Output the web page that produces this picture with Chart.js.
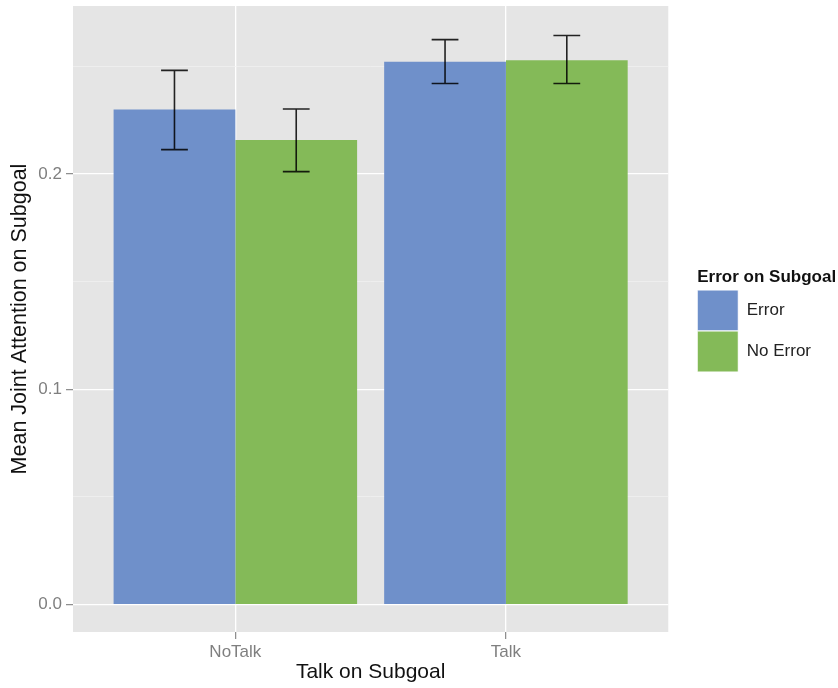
<!DOCTYPE html>
<html>
<head>
<meta charset="utf-8">
<script src="https://cdn.jsdelivr.net/npm/chart.js@4/dist/chart.umd.min.js"></script>
<style>
  html, body { margin: 0; padding: 0; background: #ffffff; }
  #wrap { width: 838px; height: 688px; }
</style>
</head>
<body>
<div id="wrap"><canvas id="chart" width="838" height="688"></canvas></div>
<script>
// Mean joint attention on subgoal, grouped by talk / error

var talkCategories = ['NoTalk', 'Talk'];
var errorMeans = [0.2299, 0.2521];
var noErrorMeans = [0.2158, 0.2528];
var errorLow = [0.2113, 0.2420];
var errorHigh = [0.2481, 0.2624];
var noErrorLow = [0.2011, 0.2420];
var noErrorHigh = [0.2302, 0.2643];
var yTickValues = [0, 0.05, 0.1, 0.15, 0.2, 0.25];
var yTickLabels = ['0.0', '', '0.1', '', '0.2', ''];

var FONT = '"Liberation Sans", Arial, Helvetica, sans-serif';
var BLUE = '#6f90ca';
var GREEN = '#84ba58';

function toPoints(values) {
  return values.map(function(v, i) { return { x: i + 1, y: v }; });
}

var panelPlugin = {
  id: 'panel',
  afterLayout: function(chart) {
    // legend title is wider than the legend items, so let it run to the canvas edge
    if (chart.legend) chart.legend.right = chart.width;
  },
  beforeDraw: function(chart) {
    var a = chart.chartArea;
    var ctx = chart.ctx;
    ctx.save();
    ctx.fillStyle = '#e5e5e5';
    ctx.fillRect(a.left, a.top, a.right - a.left, a.bottom - a.top);
    ctx.restore();
  }
};

var errorBarPlugin = {
  id: 'errorBars',
  afterDatasetsDraw: function(chart) {
    var ctx = chart.ctx;
    var yScale = chart.scales.y;
    ctx.save();
    ctx.strokeStyle = 'rgba(0,0,0,0.85)';
    ctx.lineWidth = 1.6;
    chart.data.datasets.forEach(function(ds, di) {
      var meta = chart.getDatasetMeta(di);
      meta.data.forEach(function(bar, i) {
        var lo = yScale.getPixelForValue(ds.errLow[i]);
        var hi = yScale.getPixelForValue(ds.errHigh[i]);
        var half = bar.width * 0.11;
        ctx.beginPath();
        ctx.moveTo(bar.x, lo); ctx.lineTo(bar.x, hi);
        ctx.moveTo(bar.x - half, lo); ctx.lineTo(bar.x + half, lo);
        ctx.moveTo(bar.x - half, hi); ctx.lineTo(bar.x + half, hi);
        ctx.stroke();
      });
    });
    ctx.restore();
  }
};

Chart.defaults.font.family = FONT;

new Chart(document.getElementById('chart'), {
  type: 'bar',
  data: {
    datasets: [
      {
        label: 'Error',
        data: toPoints(errorMeans),
        backgroundColor: BLUE,
        errLow: errorLow,
        errHigh: errorHigh
      },
      {
        label: 'No Error',
        data: toPoints(noErrorMeans),
        backgroundColor: GREEN,
        errLow: noErrorLow,
        errHigh: noErrorHigh
      }
    ]
  },
  plugins: [panelPlugin, errorBarPlugin],
  options: {
    responsive: false,
    animation: false,
    events: [],
    categoryPercentage: 0.9,
    barPercentage: 1.0,
    layout: { padding: { top: 6, right: 17, bottom: 0, left: 0 } },
    plugins: {
      tooltip: { enabled: false },
      legend: {
        position: 'right',
        align: 'center',
        fullSize: false,
        title: {
          display: true,
          position: 'start',
          text: 'Error on Subgoal',
          color: '#111',
          font: { size: 17, weight: 'bold', family: FONT },
          padding: { top: 3, bottom: 0.6 }
        },
        labels: {
          boxWidth: 41,
          boxHeight: 41,
          padding: 0,
          color: '#222',
          font: { size: 17, family: FONT },
          generateLabels: function(chart) {
            return chart.data.datasets.map(function(ds, i) {
              return {
                text: ds.label,
                fillStyle: ds.backgroundColor,
                strokeStyle: '#ffffff',
                lineWidth: 1,
                hidden: false,
                datasetIndex: i,
                fontColor: '#222'
              };
            });
          }
        }
      }
    },
    scales: {
      x: {
        type: 'linear',
        min: 0.4,
        max: 2.6,
        offset: false,
        afterBuildTicks: function(scale) {
          scale.ticks = talkCategories.map(function(_, i) { return { value: i + 1 }; });
        },
        afterFit: function(scale) {
          scale.height = 56;
          scale.paddingLeft = 0;
          scale.paddingRight = 0;
        },
        ticks: {
          autoSkip: false,
          color: '#7f7f7f',
          font: { size: 17, family: FONT },
          padding: 3,
          maxRotation: 0,
          callback: function(value) { return talkCategories[Math.round(value) - 1]; }
        },
        grid: {
          offset: false,
          color: '#ffffff',
          lineWidth: 1.3,
          tickLength: 7,
          tickColor: '#8a8a8a',
          tickWidth: 1.2
        },
        border: { display: false },
        title: {
          display: true,
          text: 'Talk on Subgoal',
          color: '#111',
          font: { size: 21, family: FONT },
          padding: { top: 0, bottom: 3 }
        }
      },
      y: {
        min: -0.0127,
        max: 0.278,
        afterBuildTicks: function(scale) {
          scale.ticks = yTickValues.map(function(v) { return { value: v }; });
        },
        afterFit: function(scale) {
          scale.width = 73;
          scale.paddingTop = 0;
          scale.paddingBottom = 0;
        },
        ticks: {
          color: '#7f7f7f',
          font: { size: 17, family: FONT },
          padding: 4,
          callback: function(value, index) { return yTickLabels[index]; }
        },
        grid: {
          color: function(c) { return c.index % 2 === 0 ? '#ffffff' : '#f2f2f2'; },
          lineWidth: function(c) { return c.index % 2 === 0 ? 1.3 : 0.7; },
          tickLength: 7,
          tickColor: function(c) { return c.index % 2 === 0 ? '#8a8a8a' : 'rgba(0,0,0,0)'; },
          tickWidth: 1.2
        },
        border: { display: false },
        title: {
          display: true,
          text: 'Mean Joint Attention on Subgoal',
          color: '#111',
          font: { size: 21.5, family: FONT },
          padding: { top: 7, bottom: 0 }
        }
      },
      gap: {
        type: 'linear',
        position: 'right',
        display: true,
        afterFit: function(scale) {
          scale.width = 29;
          scale.paddingTop = 0;
          scale.paddingBottom = 0;
        },
        ticks: { display: false },
        grid: { display: false, drawTicks: false },
        border: { display: false }
      }
    }
  }
});
</script>
</body>
</html>
